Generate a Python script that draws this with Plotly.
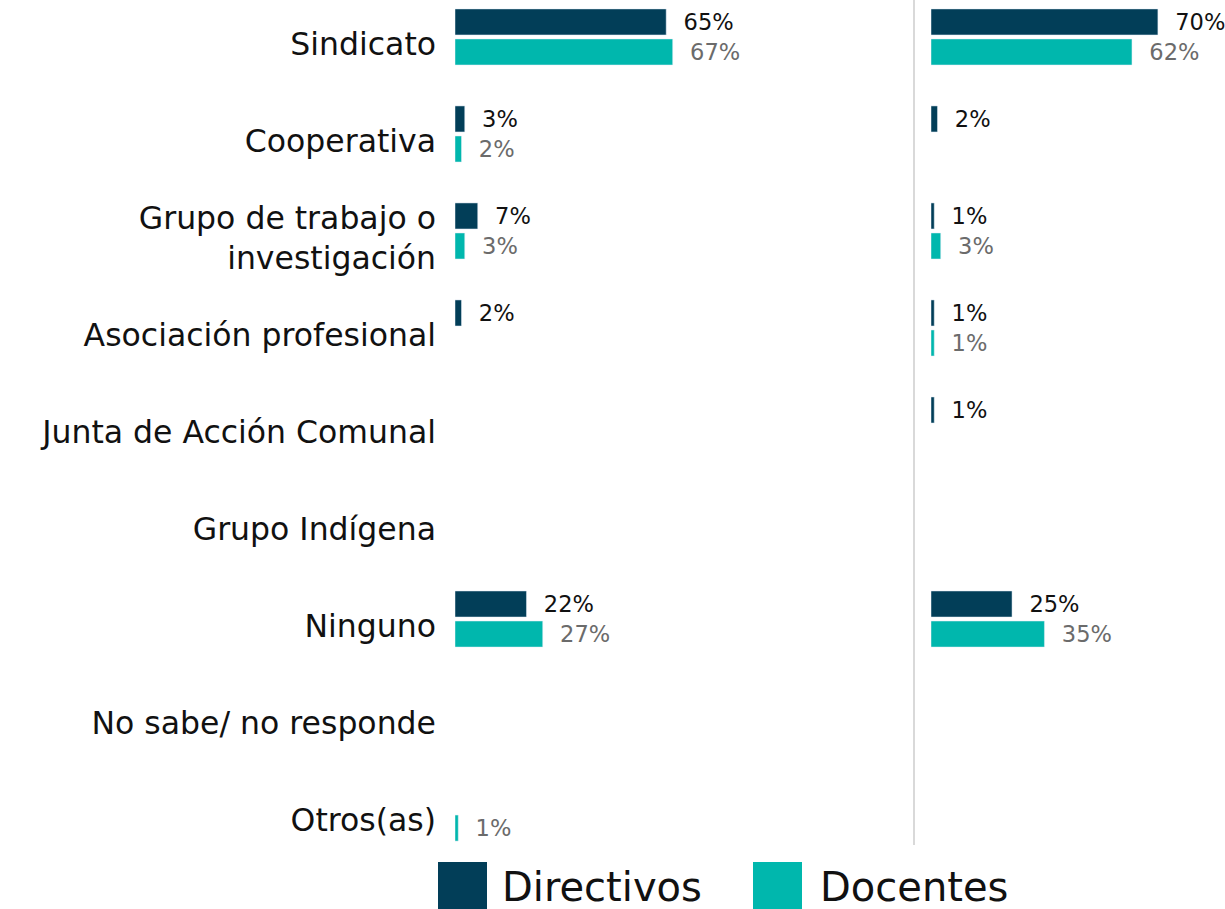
import plotly.graph_objects as go

categories = ["Sindicato", "Cooperativa", "Grupo de trabajo o<br>investigación",
              "Asociación profesional", "Junta de Acción Comunal", "Grupo Indígena",
              "Ninguno", "No sabe/ no responde", "Otros(as)"]
series_names = ["Directivos", "Docentes"]
left_directivos = [65, 3, 7, 2, None, None, 22, None, None]
left_docentes = [67, 2, 3, None, None, None, 27, None, 1]
right_directivos = [70, 2, 1, 1, 1, None, 25, None, None]
right_docentes = [62, None, 3, 1, None, None, 35, None, None]

DARK = "#023e58"
TEAL = "#00b7ad"
FONT = "DejaVu Sans"
W, H = 1225, 909

fig = go.Figure()

def add_pair(d, t, xa, ya):
    fig.add_trace(go.Bar(y=categories, x=d, orientation="h", marker_color=DARK,
                         name=series_names[0], xaxis=xa, yaxis=ya,
                         texttemplate="\u00a0\u00a0%{x}%", textposition="outside",
                         textfont=dict(family=FONT, size=26, color="#111111"),
                         cliponaxis=False, showlegend=False))
    fig.add_trace(go.Bar(y=categories, x=t, orientation="h", marker_color=TEAL,
                         name=series_names[1], xaxis=xa, yaxis=ya,
                         texttemplate="\u00a0\u00a0%{x}%", textposition="outside",
                         textfont=dict(family=FONT, size=26, color="#6b6b6b"),
                         cliponaxis=False, showlegend=False))

add_pair(left_directivos, left_docentes, "x", "y")
add_pair(right_directivos, right_docentes, "x2", "y2")

ydom = [59 / H, 1]
yrange = [8.381, -0.381]
fig.update_layout(
    width=W, height=H, margin=dict(l=0, r=0, t=0, b=0),
    paper_bgcolor="white", plot_bgcolor="white",
    barmode="group", bargap=0.381, bargroupgap=0.133,
    font=dict(family=FONT),
    xaxis=dict(domain=[455 / W, 905 / W], range=[0, 138.5], visible=False),
    xaxis2=dict(domain=[931 / W, 1], range=[0, 90.7], visible=False),
    yaxis=dict(domain=ydom, range=yrange, showgrid=False, showline=False, zeroline=False,
               ticks="", ticklabelstandoff=18, ticklabelshift=-7, automargin=False,
               tickfont=dict(family=FONT, size=31.5, color="#111111")),
    yaxis2=dict(domain=ydom, range=yrange, anchor="x2", visible=False),
    uniformtext=dict(mode=False),
)

# divider line
fig.add_shape(type="line", xref="paper", yref="paper", x0=914 / W, x1=914 / W,
              y0=1, y1=1 - 845 / H, line=dict(color="#d9d9d9", width=2))

# legend
legend_items = [(series_names[0], DARK, 438, 500), (series_names[1], TEAL, 753, 818)]
for name, col, sx, tx in legend_items:
    fig.add_shape(type="rect", xref="paper", yref="paper",
                  x0=sx / W, x1=(sx + 49) / W, y0=1 - 862 / H, y1=1 - 909 / H,
                  fillcolor=col, line=dict(width=0))
    fig.add_annotation(xref="paper", yref="paper", x=tx / W, y=1 - 887 / H,
                       text=name, showarrow=False, xanchor="left", yanchor="middle",
                       font=dict(family=FONT, size=40, color="#111111"))

fig.write_html("out.html", config={"displayModeBar": False},
               post_script="document.body.style.margin='0';")
